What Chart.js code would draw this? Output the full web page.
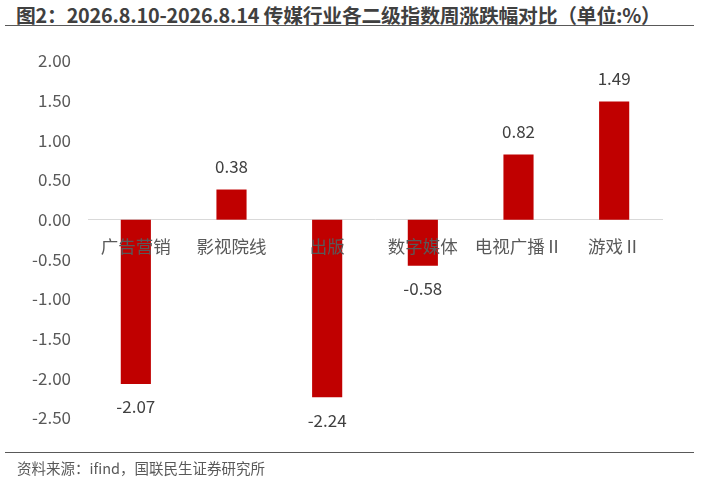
<!DOCTYPE html>
<html>
<head>
<meta charset="utf-8">
<script src="https://cdn.jsdelivr.net/npm/chart.js@4"></script>
<style>
  html, body { margin: 0; padding: 0; background: #fff; }
  #wrap { position: relative; width: 717px; height: 487px; font-family: "Noto Sans CJK SC", "Noto Sans", sans-serif; }
  #title { position: absolute; left: 16px; top: 0px; font-size: 19.8px; font-weight: bold; color: #404040; white-space: nowrap; letter-spacing: -0.2px; }
  .rule { position: absolute; left: 5px; width: 689px; height: 0; border-top: 1.3px solid #595959; }
  #source { position: absolute; left: 17px; top: 457px; font-size: 14.5px; color: #595959; white-space: nowrap; }
  canvas { position: absolute; left: 0; top: 0; }
</style>
</head>
<body>
<div id="wrap">
  <div id="title">图2：2026.8.10-2026.8.14 传媒行业各二级指数周涨跌幅对比（单位:%）</div>
  <div class="rule" style="top:25px"></div>
  <canvas id="barChart" width="717" height="487"></canvas>
  <div class="rule" style="top:452px"></div>
  <div id="source">资料来源：ifind，国联民生证券研究所</div>
</div>
<script>
// categories and weekly change (%)
const categories = ['广告营销', '影视院线', '出版', '数字媒体', '电视广播Ⅱ', '游戏Ⅱ'];
const weeklyChange = [-2.07, 0.38, -2.24, -0.58, 0.82, 1.49];
const yTicks = { min: -2.5, max: 2, step: 0.5 };

const fontFamily = '"Noto Sans CJK SC", "Noto Sans", sans-serif';

// value labels above positive bars, below negative ones
const valueLabels = {
    id: 'valueLabels',
    afterDatasetsDraw(chart) {
        const { ctx } = chart;
        const meta = chart.getDatasetMeta(0);
        ctx.save();
        ctx.font = '17px ' + fontFamily;
        ctx.fillStyle = '#404040';
        ctx.textAlign = 'center';
        ctx.textBaseline = 'middle';
        meta.data.forEach((bar, i) => {
            const v = weeklyChange[i];
            const y = v >= 0 ? bar.y - 23 : bar.y + 23;
            ctx.fillText(v.toFixed(2), bar.x, y);
        });
        ctx.restore();
    }
};

new Chart(document.getElementById('barChart'), {
    type: 'bar',
    data: {
        labels: categories,
        datasets: [{
            data: weeklyChange,
            backgroundColor: '#C00000',
            borderWidth: 0,
            barPercentage: 0.63,
            categoryPercentage: 0.5
        }]
    },
    options: {
        responsive: false,
        animation: false,
        layout: { padding: { top: 61, right: 55, bottom: 69, left: 0 } },
        plugins: { legend: { display: false }, tooltip: { enabled: false } },
        scales: {
            x: {
                position: { y: 0 },
                grid: { display: false, drawTicks: false },
                border: { display: true, color: '#d9d9d9', width: 1 },
                ticks: { z: 1, color: '#595959', font: { size: 17.5, family: fontFamily }, padding: 16, maxRotation: 0 }
            },
            y: {
                min: yTicks.min,
                max: yTicks.max,
                grid: { display: false, drawTicks: false },
                border: { display: false },
                ticks: {
                    stepSize: yTicks.step,
                    color: '#595959',
                    font: { size: 17, family: fontFamily },
                    padding: 17,
                    callback: v => Number(v).toFixed(2)
                },
                afterFit(scale) { scale.width = 88; }
            }
        }
    },
    plugins: [valueLabels]
});
</script>
</body>
</html>
